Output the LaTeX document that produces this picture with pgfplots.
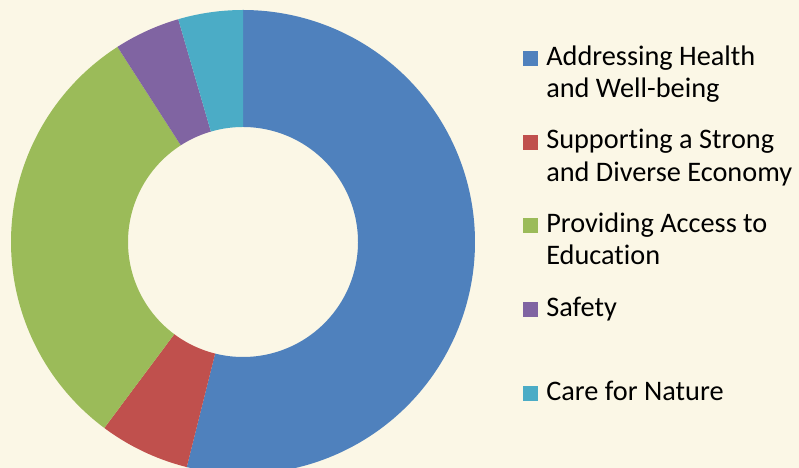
\documentclass[border=0pt]{standalone}
\usepackage{fontspec}
\setmainfont{Carlito}[Ligatures=NoCommon]
\usepackage{pgfplots}
\usepackage{pgfplotstable}
\pgfplotsset{compat=1.18}
\definecolor{bgc}{RGB}{251,247,230}
\definecolor{cblue}{RGB}{79,129,189}
\definecolor{cred}{RGB}{192,80,77}
\definecolor{cgreen}{RGB}{155,187,89}
\definecolor{cpurple}{RGB}{128,100,162}
\definecolor{ccyan}{RGB}{75,172,198}
\pgfplotstableread{
share
53.9
6.3
30.7
4.6
4.5
}\donut
\pgfplotstablegetelem{0}{share}\of\donut\let\valA\pgfplotsretval
\pgfplotstablegetelem{1}{share}\of\donut\let\valB\pgfplotsretval
\pgfplotstablegetelem{2}{share}\of\donut\let\valC\pgfplotsretval
\pgfplotstablegetelem{3}{share}\of\donut\let\valD\pgfplotsretval
\pgfplotstablegetelem{4}{share}\of\donut\let\valE\pgfplotsretval
\pgfmathsetmacro\tot{\valA+\valB+\valC+\valD+\valE}%
\pgfmathsetmacro\angA{0}%
\pgfmathsetmacro\angB{(\valA/\tot)*360}%
\pgfmathsetmacro\angC{((\valA+\valB)/\tot)*360}%
\pgfmathsetmacro\angD{((\valA+\valB+\valC)/\tot)*360}%
\pgfmathsetmacro\angE{((\valA+\valB+\valC+\valD)/\tot)*360}%
\pgfmathsetmacro\angF{360}%
% annular sector: t in [0,1] outer arc, t in [1.01,2] inner arc back
\newcommand\slice[3]{%
\addplot[fill=#3, draw=none, domain=0:2, samples=401, variable=\t]
 ({243+(\t<1.0025?232:115)*sin(\t<1.0025 ? #1+(#2-#1)*\t : #2-(#2-#1)*max(\t-1.01,0)/0.99)},
  {226+(\t<1.0025?232:115)*cos(\t<1.0025 ? #1+(#2-#1)*\t : #2-(#2-#1)*max(\t-1.01,0)/0.99)});}
\newcommand\lentry[1]{\begin{tabular}[t]{@{}l@{}}#1\end{tabular}}
\begin{document}
\begin{tikzpicture}
\useasboundingbox (0,0) rectangle (799bp,468bp);
\fill[bgc] (0,0) rectangle (799bp,468bp);
\begin{axis}[at={(0,0)}, anchor=south west, scale only axis,
  width=799bp, height=468bp, xmin=0, xmax=799, ymin=0, ymax=468,
  hide axis, clip=true,
  legend image code/.code={\fill[#1] (0bp,-0.7bp) rectangle (15bp,14.3bp);},
  legend style={at={(0.6549,0.9094)}, anchor=north west, draw=none, fill=none,
    inner sep=0pt, outer sep=0pt, row sep=59.7bp, column sep=8bp,
    font=\fontsize{28.3bp}{32.3bp}\selectfont,
    nodes={inner sep=0pt, outer sep=0pt, anchor=base west}},
]
\slice{\angA}{\angB}{cblue}
\addlegendentry{\lentry{Addressing Health\\and Well-being}}
\slice{\angB}{\angC}{cred}
\addlegendentry{\lentry{Supporting a Strong\\and Diverse Economy}}
\slice{\angC}{\angD}{cgreen}
\addlegendentry{\lentry{Providing Access to\\Education}}
\slice{\angD}{\angE}{cpurple}
\addlegendentry{\lentry{Safety\\ }}
\slice{\angE}{\angF}{ccyan}
\addlegendentry{\lentry{Care for Nature}}
\end{axis}
\end{tikzpicture}
\end{document}
